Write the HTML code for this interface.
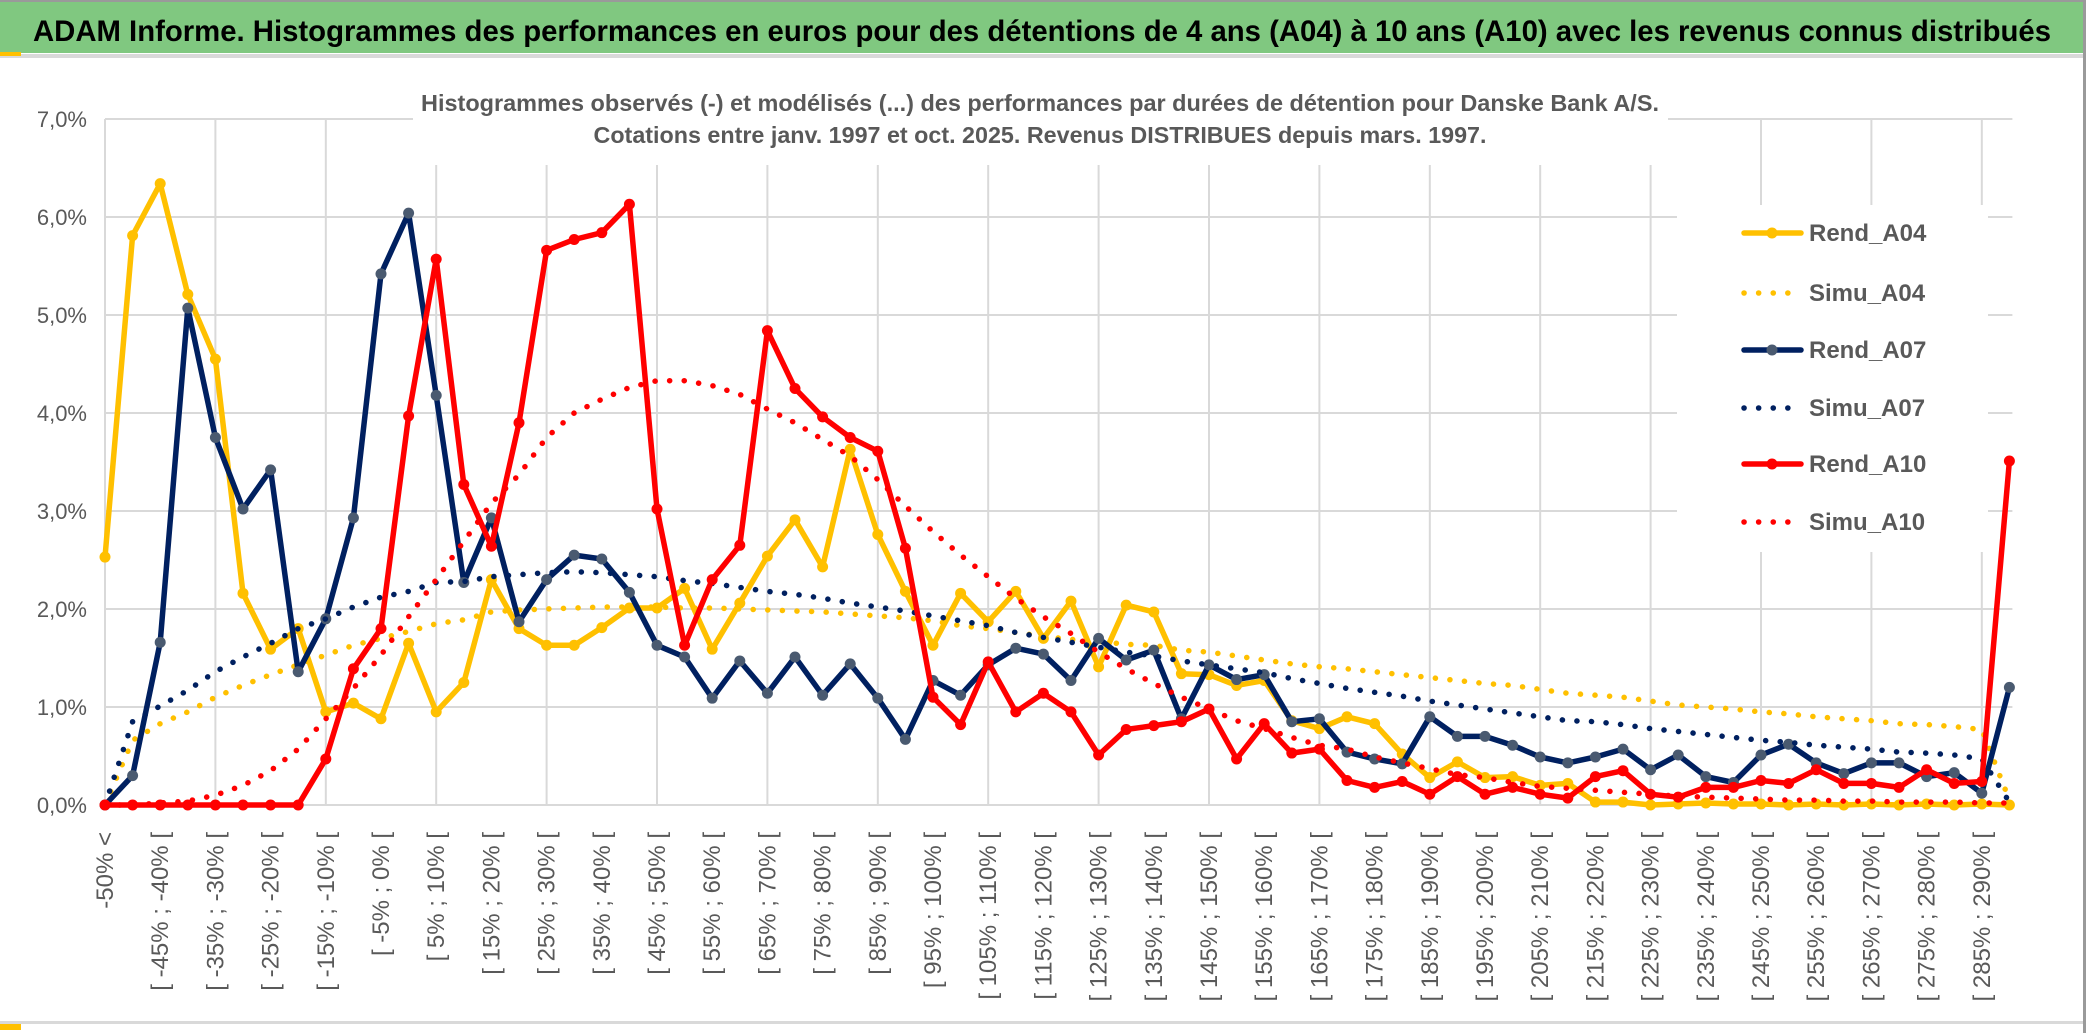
<!DOCTYPE html>
<html><head><meta charset="utf-8">
<style>
html,body{margin:0;padding:0;background:#fff;}
svg{display:block;font-family:"Liberation Sans",sans-serif;}
</style></head>
<body>
<svg id="chart" width="2086" height="1033" viewBox="0 0 2086 1033" xmlns="http://www.w3.org/2000/svg">
  <rect x="0" y="0" width="2086" height="1033" fill="#fff"/>
  <rect x="0" y="0" width="2086" height="53" fill="#80c880"/>
  <rect x="0" y="0" width="2086" height="2" fill="#9a9a9a"/>
  <rect x="0" y="54" width="2086" height="4" fill="#d9d9d9"/>
  <rect x="0" y="52" width="21" height="4" fill="#ffc000"/>
  <text x="33" y="41" font-size="30" font-weight="bold" fill="#000" textLength="2018" lengthAdjust="spacingAndGlyphs">ADAM Informe. Histogrammes des performances en euros pour des détentions de 4 ans (A04) à 10 ans (A10) avec les revenus connus distribués</text>
  <rect x="0" y="1021" width="2086" height="3" fill="#d9d9d9"/>
  <rect x="0" y="1024" width="21" height="6" fill="#ffc000"/>
  <rect x="2083" y="0" width="3" height="1033" fill="#9a9a9a"/>
  <g id="grid"></g>
  <g id="yaxis"></g>
  <g id="xaxis"></g>
  <rect x="413" y="60" width="1255" height="105" fill="#fff"/>
  <text x="1040" y="111" font-size="23" font-weight="bold" fill="#595959" text-anchor="middle" textLength="1238" lengthAdjust="spacingAndGlyphs">Histogrammes observés (-) et modélisés (...) des performances par durées de détention pour Danske Bank A/S.</text>
  <text x="1040" y="143" font-size="23" font-weight="bold" fill="#595959" text-anchor="middle" textLength="893" lengthAdjust="spacingAndGlyphs">Cotations entre janv. 1997 et oct. 2025. Revenus DISTRIBUES depuis mars. 1997.</text>
  <rect x="1677" y="205" width="311" height="347" fill="#fff"/>
  <g id="series"></g>
  <g id="legend"></g>
</svg>
<script>
const categoryCount = 70;
const yTicks = [0,1,2,3,4,5,6,7];
const yTickLabels = ["0,0%","1,0%","2,0%","3,0%","4,0%","5,0%","6,0%","7,0%"];
const rendA04 = [2.53,5.81,6.34,5.21,4.55,2.16,1.59,1.80,0.95,1.04,0.88,1.65,0.95,1.25,2.30,1.80,1.63,1.63,1.81,2.01,2.01,2.21,1.59,2.06,2.54,2.91,2.43,3.63,2.76,2.18,1.63,2.16,1.87,2.18,1.70,2.08,1.41,2.04,1.97,1.34,1.33,1.22,1.27,0.86,0.78,0.90,0.83,0.52,0.28,0.44,0.28,0.29,0.20,0.22,0.03,0.03,0.0,0.01,0.02,0.01,0.01,0.0,0.01,0.0,0.01,0.0,0.01,0.0,0.01,0.0];
const simuA04 = [0.0,0.66,0.83,0.95,1.10,1.22,1.33,1.43,1.53,1.63,1.70,1.77,1.85,1.89,1.97,1.99,2.0,2.01,2.02,2.02,2.02,2.01,2.01,2.0,1.99,1.98,1.97,1.95,1.93,1.91,1.88,1.83,1.80,1.76,1.72,1.69,1.67,1.64,1.63,1.58,1.56,1.52,1.48,1.44,1.41,1.39,1.36,1.33,1.30,1.27,1.24,1.22,1.18,1.14,1.12,1.10,1.06,1.02,1.00,0.98,0.95,0.93,0.90,0.88,0.86,0.83,0.82,0.80,0.77,0.05];
const rendA07 = [0,0.30,1.66,5.07,3.75,3.02,3.42,1.36,1.90,2.93,5.42,6.04,4.18,2.27,2.93,1.87,2.30,2.55,2.51,2.17,1.63,1.51,1.09,1.47,1.14,1.51,1.12,1.44,1.09,0.67,1.27,1.12,1.43,1.60,1.54,1.27,1.70,1.48,1.58,0.88,1.43,1.28,1.33,0.85,0.88,0.54,0.47,0.42,0.90,0.70,0.70,0.61,0.49,0.43,0.49,0.57,0.36,0.51,0.29,0.23,0.51,0.62,0.43,0.32,0.43,0.43,0.29,0.33,0.12,1.20];
const simuA07 = [0.0,0.85,1.01,1.17,1.36,1.51,1.65,1.80,1.90,2.02,2.12,2.18,2.27,2.28,2.33,2.35,2.37,2.38,2.37,2.35,2.33,2.29,2.26,2.22,2.18,2.15,2.11,2.06,2.02,1.98,1.93,1.88,1.83,1.76,1.71,1.66,1.61,1.56,1.52,1.47,1.43,1.39,1.35,1.29,1.24,1.19,1.15,1.11,1.06,1.02,0.98,0.94,0.90,0.86,0.85,0.82,0.78,0.75,0.72,0.69,0.66,0.64,0.61,0.59,0.57,0.54,0.53,0.51,0.47,0.03];
const rendA10 = [0,0,0,0,0,0,0,0,0.47,1.39,1.80,3.97,5.57,3.27,2.64,3.90,5.66,5.77,5.84,6.13,3.02,1.63,2.30,2.65,4.84,4.25,3.96,3.75,3.61,2.62,1.10,0.82,1.46,0.95,1.14,0.95,0.51,0.77,0.81,0.85,0.98,0.47,0.83,0.53,0.57,0.25,0.18,0.24,0.11,0.29,0.11,0.18,0.11,0.07,0.29,0.35,0.11,0.08,0.18,0.18,0.25,0.22,0.36,0.22,0.22,0.18,0.36,0.22,0.24,3.51];
const simuA10 = [0,0,0.02,0.04,0.1,0.2,0.35,0.57,0.88,1.19,1.53,1.92,2.30,2.69,3.08,3.37,3.75,4.0,4.14,4.26,4.33,4.33,4.28,4.19,4.04,3.90,3.73,3.56,3.32,3.05,2.79,2.55,2.33,2.11,1.92,1.75,1.56,1.39,1.24,1.10,0.98,0.86,0.78,0.69,0.61,0.57,0.49,0.43,0.37,0.31,0.28,0.23,0.19,0.17,0.15,0.13,0.11,0.09,0.08,0.07,0.06,0.05,0.05,0.04,0.04,0.03,0.03,0.03,0.02,0.02];
const seriesNames = ["Rend_A04","Simu_A04","Rend_A07","Simu_A07","Rend_A10","Simu_A10"];

function catLabel(i){
  if(i===0) return "-50% <";
  const lo=-55+5*i, hi=-50+5*i;
  return "[ "+lo+"% ; "+hi+"% [";
}
const NS="http://www.w3.org/2000/svg";
const X0=105, DX=27.6, Y0=805, DY=98;
function xs(i){return X0+i*DX;}
function ys(v){return Y0-v*DY;}
function mk(tag,attrs,parent){const e=document.createElementNS(NS,tag);for(const k in attrs)e.setAttribute(k,attrs[k]);parent.appendChild(e);return e;}

const grid=document.getElementById('grid');
const xEnd=xs(categoryCount-1)+3;
yTicks.forEach((t,k)=>{
  const l=mk('line',{x1:X0,x2:xEnd,y1:ys(t),y2:ys(t),stroke:'#d9d9d9','stroke-width':2},grid);
  
  
});
for(let i=0;i<categoryCount;i+=4){
  const l=mk('line',{x1:xs(i),x2:xs(i),y1:ys(7),y2:ys(0),stroke:'#d9d9d9','stroke-width':2},grid);
  
  
}
const yax=document.getElementById('yaxis');
yTicks.forEach((t,k)=>{
  const tx=mk('text',{x:87,y:ys(t)+8,'font-size':22,fill:'#595959','text-anchor':'end'},yax);
  tx.textContent=yTickLabels[k];
  
  
});
const xax=document.getElementById('xaxis');
for(let i=0;i<categoryCount;i+=2){
  const x=xs(i)+8, y=832;
  const tx=mk('text',{x:x,y:y,'font-size':24,fill:'#595959','text-anchor':'end',transform:'rotate(-90 '+x+' '+y+')'},xax);
  tx.textContent=catLabel(i);
  
  
}

const ser=document.getElementById('series');
function pts(arr){return arr.map((v,i)=>xs(i).toFixed(1)+','+ys(v).toFixed(1)).join(' ');}
function drawRend(arr,color,marker,name){
  const g=mk('g',{},ser);
  
  
  const pl=mk('polyline',{points:pts(arr),fill:'none',stroke:color,'stroke-width':5.5,'stroke-linejoin':'round','stroke-linecap':'round'},g);
  
  
  arr.forEach((v,i)=>{
    const c=mk('circle',{cx:xs(i),cy:ys(v),r:5.5,fill:marker},g);
    
    
  });
}
function drawSimu(arr,color,name){
  const pl=mk('polyline',{points:pts(arr),fill:'none',stroke:color,'stroke-width':5.5,'stroke-linecap':'round','stroke-dasharray':'0.1 14.5'},ser);
  
  
}
drawRend(rendA04,'#ffc000','#ffc000','rend-a04-series');
drawSimu(simuA04,'#ffc000','simu-a04-series');
drawRend(rendA07,'#002060','#4a5a70','rend-a07-series');
drawSimu(simuA07,'#002060','simu-a07-series');
drawRend(rendA10,'#ff0000','#ff0000','rend-a10-series');
drawSimu(simuA10,'#ff0000','simu-a10-series');

const leg=document.getElementById('legend');
const legColors=['#ffc000','#ffc000','#002060','#002060','#ff0000','#ff0000'];
const legMarkers=['#ffc000',null,'#4a5a70',null,'#ff0000',null];
const legY=[233,293,350,408,464,522];
seriesNames.forEach((n,k)=>{
  const g=mk('g',{},leg);
  
  
  const y=legY[k];
  if(legMarkers[k]){
    mk('line',{x1:1744,x2:1801,y1:y,y2:y,stroke:legColors[k],'stroke-width':5.5,'stroke-linecap':'round'},g);
    mk('circle',{cx:1772,cy:y,r:5.5,fill:legMarkers[k]},g);
  } else {
    mk('line',{x1:1744,x2:1800,y1:y,y2:y,stroke:legColors[k],'stroke-width':5.5,'stroke-linecap':'round','stroke-dasharray':'0.1 14.5'},g);
  }
  const t=mk('text',{x:1809,y:y+8,'font-size':24,'font-weight':'bold',fill:'#595959'},g);
  t.textContent=n;
});
</script>
</body></html>
